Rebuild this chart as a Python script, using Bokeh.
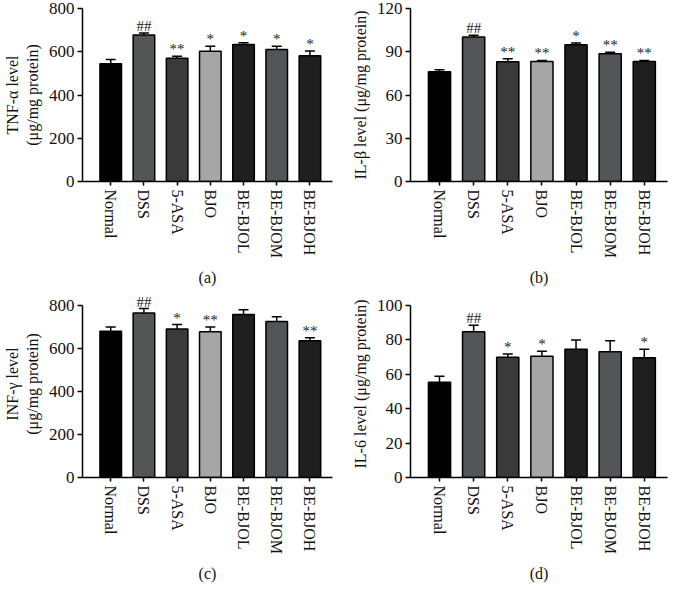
from bokeh.plotting import figure
from bokeh.models import ColumnDataSource, Range1d, FixedTicker, SingleIntervalTicker, Whisker, TeeHead
from bokeh.layouts import column, row
from bokeh.embed import file_html
from bokeh.resources import INLINE
from bokeh.core.properties import value

categories = ["Normal", "DSS", "5-ASA", "BJO", "BE-BJOL", "BE-BJOM", "BE-BJOH"]
bar_colors = ["#000000", "#545559", "#3a3a3a", "#a6a6a6", "#1f1f1f", "#545559", "#1f1f1f"]

tnf = [544, 678, 570, 602, 633, 610, 582]
tnf_err = [20, 9, 9, 23, 9, 15, 22]
tnf_sig = ["", "##", "**", "*", "*", "*", "*"]

il1b = [76.1, 100.2, 83.1, 83.2, 94.8, 88.6, 83.2]
il1b_err = [1.4, 1.2, 2.0, 0.8, 1.2, 1.0, 0.8]
il1b_sig = ["", "##", "**", "**", "*", "**", "**"]

inf = [679, 764, 689, 676, 757, 724, 635]
inf_err = [19, 20, 21, 22, 21, 22, 14]
inf_sig = ["", "##", "*", "**", "", "", "**"]

il6 = [55.2, 84.6, 69.8, 70.4, 74.4, 72.9, 69.4]
il6_err = [3.6, 3.7, 1.9, 2.9, 5.4, 6.5, 5.0]
il6_sig = ["", "##", "*", "*", "", "", "*"]

FONT = "Liberation Serif"
AXIS_BELOW = 115   # observed space used by the x axis block (ticks, labels, panel letter)


def panel(vals, errs, sigs, ymax, step, ylabel, sub, width, height, bl, top, head):
    xs = list(range(len(categories)))
    src = ColumnDataSource(dict(
        x=xs, top=vals, upper=[v + e for v, e in zip(vals, errs)],
        sig=sigs, color=bar_colors))
    fh = height - top - AXIS_BELOW
    y_end = ymax * fh / (fh - head)
    p = figure(width=width, height=height, output_backend="svg", toolbar_location=None,
               x_range=Range1d(-0.85, len(categories) - 0.32), y_range=Range1d(0, y_end),
               min_border_left=bl, min_border_right=2, min_border_top=top,
               min_border_bottom=0)
    p.outline_line_color = None
    p.xgrid.grid_line_color = None
    p.ygrid.grid_line_color = None
    p.background_fill_color = "white"

    p.add_layout(Whisker(source=src, base="x", upper="upper", lower="top",
                         upper_head=TeeHead(size=10, line_width=1.5, line_color="black"),
                         lower_head=None, line_width=1.5, line_color="black"))
    p.vbar(x="x", top="top", bottom=0, width=0.65, source=src,
           fill_color="color", line_color="black", line_width=1.5)
    p.text(x="x", y="upper", text="sig", source=src, text_align="center",
           text_baseline="bottom", y_offset=1, text_font=value(FONT),
           text_font_size="15px", text_color="#222222")

    ya = p.yaxis[0]
    ya.bounds = (0, ymax)
    ya.ticker = SingleIntervalTicker(interval=step)
    ya.axis_label = ylabel
    ya.axis_label_text_font = FONT
    ya.axis_label_text_font_style = "normal"
    ya.axis_label_text_font_size = "16px"
    ya.axis_label_text_color = "#111111"
    ya.axis_label_standoff = 5
    ya.major_label_text_font = FONT
    ya.major_label_text_font_size = "17px"
    ya.major_label_text_color = "#111111"
    ya.major_label_standoff = 3
    ya.major_tick_out = 5
    ya.major_tick_in = 0
    ya.minor_tick_line_color = None
    ya.axis_line_width = 1.5
    ya.major_tick_line_width = 1.5

    xa = p.xaxis[0]
    xa.ticker = FixedTicker(ticks=xs)
    xa.major_label_overrides = {i: c for i, c in zip(xs, categories)}
    xa.major_label_orientation = "vertical"
    xa.major_label_text_font = FONT
    xa.major_label_text_font_size = "16px"
    xa.major_label_text_color = "#111111"
    xa.major_label_standoff = 4
    xa.major_tick_out = 4
    xa.major_tick_in = 0
    xa.minor_tick_line_color = None
    xa.axis_line_width = 1.5
    xa.major_tick_line_width = 1.5
    xa.axis_label = sub
    xa.axis_label_text_font = FONT
    xa.axis_label_text_font_style = "normal"
    xa.axis_label_text_font_size = "16px"
    xa.axis_label_text_color = "#111111"
    xa.axis_label_standoff = 8
    return p


pa = panel(tnf, tnf_err, tnf_sig, 800, 200, "TNF-α level\n(μg/mg protein)", "(a)", 334, 288, 72, 8, 0)
pb = panel(il1b, il1b_err, il1b_sig, 120, 30, "IL-β level (μg/mg protein)", "(b)", 335, 288, 76, 8, 0)
pc = panel(inf, inf_err, inf_sig, 800, 200, "INF-γ level\n(μg/mg protein)", "(c)", 334, 296, 72, 2, 14)
pd = panel(il6, il6_err, il6_sig, 100, 20, "IL-6 level (μg/mg protein)", "(d)", 335, 296, 76, 2, 14)

layout = column(row(pa, pb), row(pc, pd))
open("out.html", "w").write(file_html(layout, INLINE))
